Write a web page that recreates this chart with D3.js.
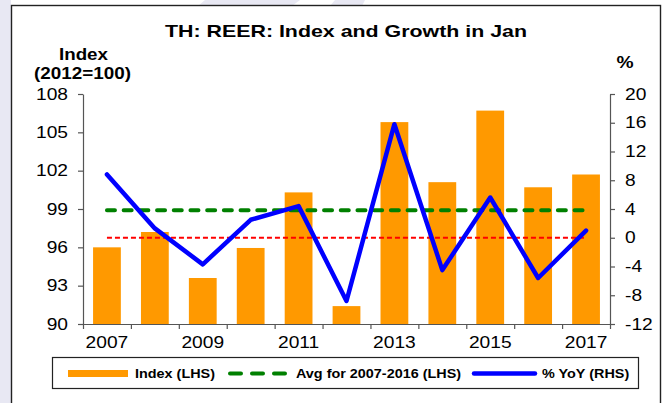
<!DOCTYPE html>
<html>
<head>
<meta charset="utf-8">
<script src="https://cdn.jsdelivr.net/npm/d3@7"></script>
<style>
  body { margin: 0; background: #fff; }
  svg { display: block; font-family: "Liberation Sans", Arial, sans-serif; }
</style>
</head>
<body>
<div id="chart"></div>
<script>
// data
var years = ["2007", "2008", "2009", "2010", "2011", "2012", "2013", "2014", "2015", "2016", "2017"];
var indexValues = [96.0, 97.2, 93.6, 95.95, 100.3, 91.4, 105.8, 101.1, 106.7, 100.7, 101.7];
var yoyValues = [8.8, 1.3, -3.7, 2.5, 4.4, -8.8, 15.8, -4.5, 5.6, -5.6, 1.0];
var avgIndex = 98.9;
var leftTicks = [90, 93, 96, 99, 102, 105, 108];
var rightTicks = [-12, -8, -4, 0, 4, 8, 12, 16, 20];
var labelYears = ["2007", "2009", "2011", "2013", "2015", "2017"];
var legendLabels = ["Index (LHS)", "Avg for 2007-2016 (LHS)", "% YoY (RHS)"];

var W = 667, H = 403;
var plot = {left: 83, right: 610, top: 94, bottom: 324};
var SX = 1.2; // the source text is a bit wider than Arial

var svg = d3.select("#chart").append("svg")
    .attr("width", W)
    .attr("height", H);

// stretch text horizontally, keeping its anchor in place
function stretch(sel) {
    sel.each(function () {
        var t = d3.select(this);
        var x = +t.attr("x") || 0;
        t.attr("x", x / SX).attr("transform", "scale(" + SX + ",1)");
    });
}

// background bits (watermark + frame)
svg.append("rect").attr("x", 0).attr("y", 0).attr("width", 11).attr("height", H).attr("fill", "#e8e8f3");
svg.append("path").attr("d", "M205,0 L300,0 L292,6 L198,6 Z").attr("fill", "#e8e8f3");
svg.append("path").attr("d", "M335,0 L365,0 L362,6 L330,6 Z").attr("fill", "#e8e8f3");
svg.append("rect")
    .attr("x", 11.5).attr("y", 5.5)
    .attr("width", 649).attr("height", H + 10)
    .attr("fill", "#fff")
    .attr("stroke", "#222")
    .attr("stroke-width", 1.4);

// scales
var x = d3.scaleBand()
    .domain(years)
    .range([plot.left, plot.right])
    .paddingInner(0.42)
    .paddingOuter(0.21);

var xEdge = d3.scaleLinear()
    .domain([0, years.length])
    .range([plot.left, plot.right]);

var yL = d3.scaleLinear().domain([90, 108]).range([plot.bottom, plot.top]);
var yR = d3.scaleLinear().domain([-12, 20]).range([plot.bottom, plot.top]);

function cx(d) { return x(d) + x.bandwidth() / 2; }

// bars
svg.append("g").selectAll("rect")
    .data(years)
    .enter()
    .append("rect")
    .attr("x", function (d) { return x(d); })
    .attr("y", function (d, i) { return yL(indexValues[i]); })
    .attr("width", x.bandwidth())
    .attr("height", function (d, i) { return yL(90) - yL(indexValues[i]); })
    .attr("fill", "#ff9900");

// zero line of the RHS (red, thin dashes)
svg.append("line")
    .attr("x1", cx(years[0])).attr("x2", cx(years[years.length - 1]))
    .attr("y1", yR(0)).attr("y2", yR(0))
    .attr("stroke", "#ff0000")
    .attr("stroke-width", 1.8)
    .attr("stroke-dasharray", "5,3");

// average line
svg.append("line")
    .attr("x1", cx(years[0])).attr("x2", cx(years[years.length - 1]))
    .attr("y1", yL(avgIndex)).attr("y2", yL(avgIndex))
    .attr("stroke", "#008000")
    .attr("stroke-width", 4)
    .attr("stroke-linecap", "round")
    .attr("stroke-dasharray", "8,8.7");

// % YoY line
var line = d3.line()
    .x(function (d, i) { return cx(years[i]); })
    .y(function (d) { return yR(d); });

svg.append("path")
    .datum(yoyValues)
    .attr("d", line)
    .attr("fill", "none")
    .attr("stroke", "#0000ff")
    .attr("stroke-width", 4.5)
    .attr("stroke-linejoin", "round")
    .attr("stroke-linecap", "round");

// axes
var axisColor = "#555";
var plain = function (d) { return String(d); }; // hyphen, not unicode minus

var gL = svg.append("g")
    .attr("transform", "translate(" + plot.left + ",0)")
    .call(d3.axisLeft(yL).tickValues(leftTicks).tickFormat(plain).tickSize(5).tickPadding(10).tickSizeOuter(0));

var gR = svg.append("g")
    .attr("transform", "translate(" + plot.right + ",0)")
    .call(d3.axisRight(yR).tickValues(rightTicks).tickFormat(plain).tickSize(5).tickPadding(10).tickSizeOuter(0));

var gX = svg.append("g")
    .attr("transform", "translate(0," + plot.bottom + ")")
    .call(d3.axisBottom(xEdge).tickValues(d3.range(years.length + 1)).tickSize(5).tickFormat("").tickSizeOuter(0));

var gXl = svg.append("g")
    .attr("transform", "translate(0," + plot.bottom + ")")
    .call(d3.axisBottom(x).tickValues(labelYears).tickSize(0).tickPadding(13));
gXl.select(".domain").remove();

[gL, gR, gX].forEach(function (g) {
    g.selectAll("path, line").attr("stroke", axisColor).attr("stroke-width", 1.2);
});
[gL, gR, gXl].forEach(function (g) {
    g.selectAll("text")
        .attr("font-size", 16)
        .attr("font-family", "Liberation Sans, Arial, sans-serif")
        .attr("fill", "#000");
    stretch(g.selectAll("text"));
});

// titles
svg.append("text")
    .attr("x", 346).attr("y", 37)
    .attr("text-anchor", "middle")
    .attr("font-size", 17)
    .attr("font-weight", "bold")
    .attr("textLength", 362)
    .attr("lengthAdjust", "spacingAndGlyphs")
    .text("TH: REER: Index and Growth in Jan");

svg.append("text")
    .attr("x", 83.5).attr("y", 60)
    .attr("text-anchor", "middle")
    .attr("font-size", 16.5)
    .attr("font-weight", "bold")
    .attr("textLength", 49)
    .attr("lengthAdjust", "spacingAndGlyphs")
    .text("Index");

svg.append("text")
    .attr("x", 82.5).attr("y", 78.5)
    .attr("text-anchor", "middle")
    .attr("font-size", 16.5)
    .attr("font-weight", "bold")
    .attr("textLength", 97)
    .attr("lengthAdjust", "spacingAndGlyphs")
    .text("(2012=100)");

var pct = svg.append("text")
    .attr("x", 625).attr("y", 68)
    .attr("text-anchor", "middle")
    .attr("font-size", 16)
    .attr("font-weight", "bold")
    .text("%");
stretch(pct);

// legend
var legend = svg.append("g");
legend.append("rect")
    .attr("x", 52.5).attr("y", 357.5)
    .attr("width", 586).attr("height", 31)
    .attr("fill", "#fff")
    .attr("stroke", "#222")
    .attr("stroke-width", 1.2);

var ly = 373.5;
legend.append("rect")
    .attr("x", 68).attr("y", ly - 3.5)
    .attr("width", 60).attr("height", 7)
    .attr("fill", "#ff9900");
legend.append("line")
    .attr("x1", 230).attr("x2", 288)
    .attr("y1", ly).attr("y2", ly)
    .attr("stroke", "#008000")
    .attr("stroke-width", 4)
    .attr("stroke-linecap", "round")
    .attr("stroke-dasharray", "11,11");
legend.append("line")
    .attr("x1", 474).attr("x2", 535)
    .attr("y1", ly).attr("y2", ly)
    .attr("stroke", "#0000ff")
    .attr("stroke-width", 4.5)
    .attr("stroke-linecap", "round");

var legendX = [135, 296, 542];
legend.selectAll("text.lg")
    .data(legendLabels)
    .enter()
    .append("text")
    .attr("class", "lg")
    .attr("x", function (d, i) { return legendX[i]; })
    .attr("y", ly + 4.5)
    .attr("font-size", 12)
    .attr("font-weight", "bold")
    .text(function (d) { return d; })
    .call(stretch);
</script>
</body>
</html>
